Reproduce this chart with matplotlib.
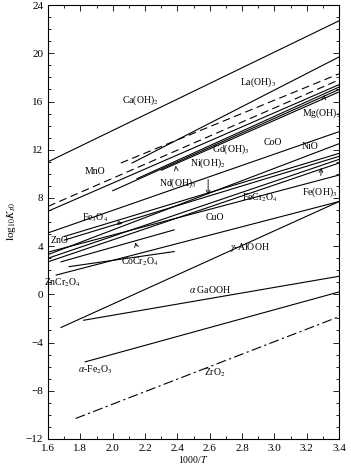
import matplotlib
matplotlib.use("Agg")
import matplotlib.pyplot as plt
from matplotlib.ticker import MultipleLocator

# log10 K vs 1000/T, one straight line per phase (start / end)
species = ['Ca(OH)$_2$', 'La(OH)$_3$', '', 'MnO', '', 'Gd(OH)$_3$', 'Nd(OH)$_3$',
           'Mg(OH)$_2$', 'CoO', 'NiO', 'Fe$_3$O$_4$', 'ZnO', 'Ni(OH)$_2$', 'Fe(OH)$_3$',
           'FeCr$_2$O$_4$', 'CuO', 'CoCr$_2$O$_4$', 'ZnCr$_2$O$_4$',
           r'$\gamma$-AlOOH', r'$\alpha$ GaOOH', r'$\alpha$-Fe$_2$O$_3$', 'ZrO$_2$']
x_start = [1.60, 2.12, 2.05, 1.60, 1.60, 2.15, 2.00, 2.30, 1.60, 1.60, 1.70, 1.70, 1.60, 1.60,
           1.60, 1.65, 1.68, 1.73, 1.68, 1.82, 1.83, 1.77]
y_start = [11.0, 10.9, 10.9, 7.3, 6.9, 9.6, 8.6, 10.3, 5.1, 3.3, 4.8, 4.5, 3.0, 2.7,
           3.5, 1.6, 2.7, 2.3, -2.75, -2.15, -5.6, -10.3]
x_end = [3.40, 3.40, 3.40, 3.40, 3.40, 3.40, 3.40, 3.40, 3.40, 3.40, 3.40, 3.40, 3.40, 3.40,
         3.40, 3.40, 2.38, 2.38, 3.40, 3.40, 3.40, 3.40]
y_end = [22.7, 19.7, 18.3, 17.8, 17.4, 17.2, 17.0, 16.8, 13.5, 12.5, 11.7, 11.45, 11.2, 10.9,
         9.9, 7.7, 5.35, 3.55, 7.7, 1.5, 0.2, -1.85]

x_ticks = [1.6, 1.8, 2.0, 2.2, 2.4, 2.6, 2.8, 3.0, 3.2, 3.4]
y_ticks = [-12, -8, -4, 0, 4, 8, 12, 16, 20, 24]

plt.rcParams['font.family'] = ['Liberation Serif', 'DejaVu Serif']
plt.rcParams['mathtext.fontset'] = 'stix'

fig = plt.figure(figsize=(3.51, 4.65), dpi=100)
ax = fig.add_axes([0.137, 0.056, 0.829, 0.933])

dashes = {2: (0, (7, 4)), 3: (0, (7, 4)), 21: (0, (9, 3, 2, 3))}
for i in range(len(species)):
    ls = dashes.get(i, '-')
    ax.plot([x_start[i], x_end[i]], [y_start[i], y_end[i]], color='black',
            lw=0.8, linestyle=ls)

# labels (x, y) placed where the figure puts them
fs = 7
lab = {
    'Ca(OH)$_2$': (2.17, 16.1), 'La(OH)$_3$': (2.90, 17.6), 'MnO': (1.89, 10.2),
    'Gd(OH)$_3$': (2.73, 12.0), 'CoO': (2.99, 12.6), 'NiO': (3.22, 12.25),
    'FeCr$_2$O$_4$': (2.91, 8.0), 'ZnO': (1.67, 4.5), 'CuO': (2.63, 6.35),
    r'$\gamma$-AlOOH': (2.85, 3.9), 'ZnCr$_2$O$_4$': (1.69, 0.97),
    r'$\alpha$ GaOOH': (2.60, 0.4), r'$\alpha$-Fe$_2$O$_3$': (1.89, -6.25),
    'ZrO$_2$': (2.63, -6.5),
}
for name, (lx, ly) in lab.items():
    ax.text(lx, ly, name, fontsize=fs, ha='center', va='center')

arrows = {
    'Nd(OH)$_3$': ((2.40, 9.25), (2.39, 10.65)),
    'Ni(OH)$_2$': ((2.59, 10.9), (2.59, 8.26)),
    'Mg(OH)$_2$': ((3.29, 15.05), (3.31, 16.55)),
    'Fe(OH)$_3$': ((3.28, 8.5), (3.29, 10.5)),
    'Fe$_3$O$_4$': ((1.89, 6.35), (2.06, 5.86)),
    'CoCr$_2$O$_4$': ((2.17, 2.7), (2.14, 4.3)),
}
for name, (txt, tip) in arrows.items():
    ax.annotate(name, xy=tip, xytext=txt, fontsize=fs, ha='center', va='center',
                arrowprops=dict(arrowstyle='->', lw=0.6, color='black',
                                shrinkA=5, shrinkB=0))

ax.set_xlim(1.6, 3.4)
ax.set_ylim(-12, 24)
ax.set_xticks(x_ticks)
ax.set_yticks(y_ticks)
ax.set_xticklabels(['%.1f' % v for v in x_ticks])
ax.set_yticklabels(['\u2212%d' % -v if v < 0 else '%d' % v for v in y_ticks])
ax.xaxis.set_minor_locator(MultipleLocator(0.1))
ax.yaxis.set_minor_locator(MultipleLocator(1))
ax.tick_params(which='both', direction='in', top=True, right=True, labelsize=8,
               width=0.6)
ax.tick_params(which='major', length=4)
ax.tick_params(which='minor', length=2)
for s in ax.spines.values():
    s.set_linewidth(0.8)

ax.set_xlabel('1000/$T$', fontsize=7, labelpad=1)
ax.set_ylabel('log$_{10}$$K_{s0}$', fontsize=8, labelpad=6)

fig.savefig('out.png', dpi=100)
